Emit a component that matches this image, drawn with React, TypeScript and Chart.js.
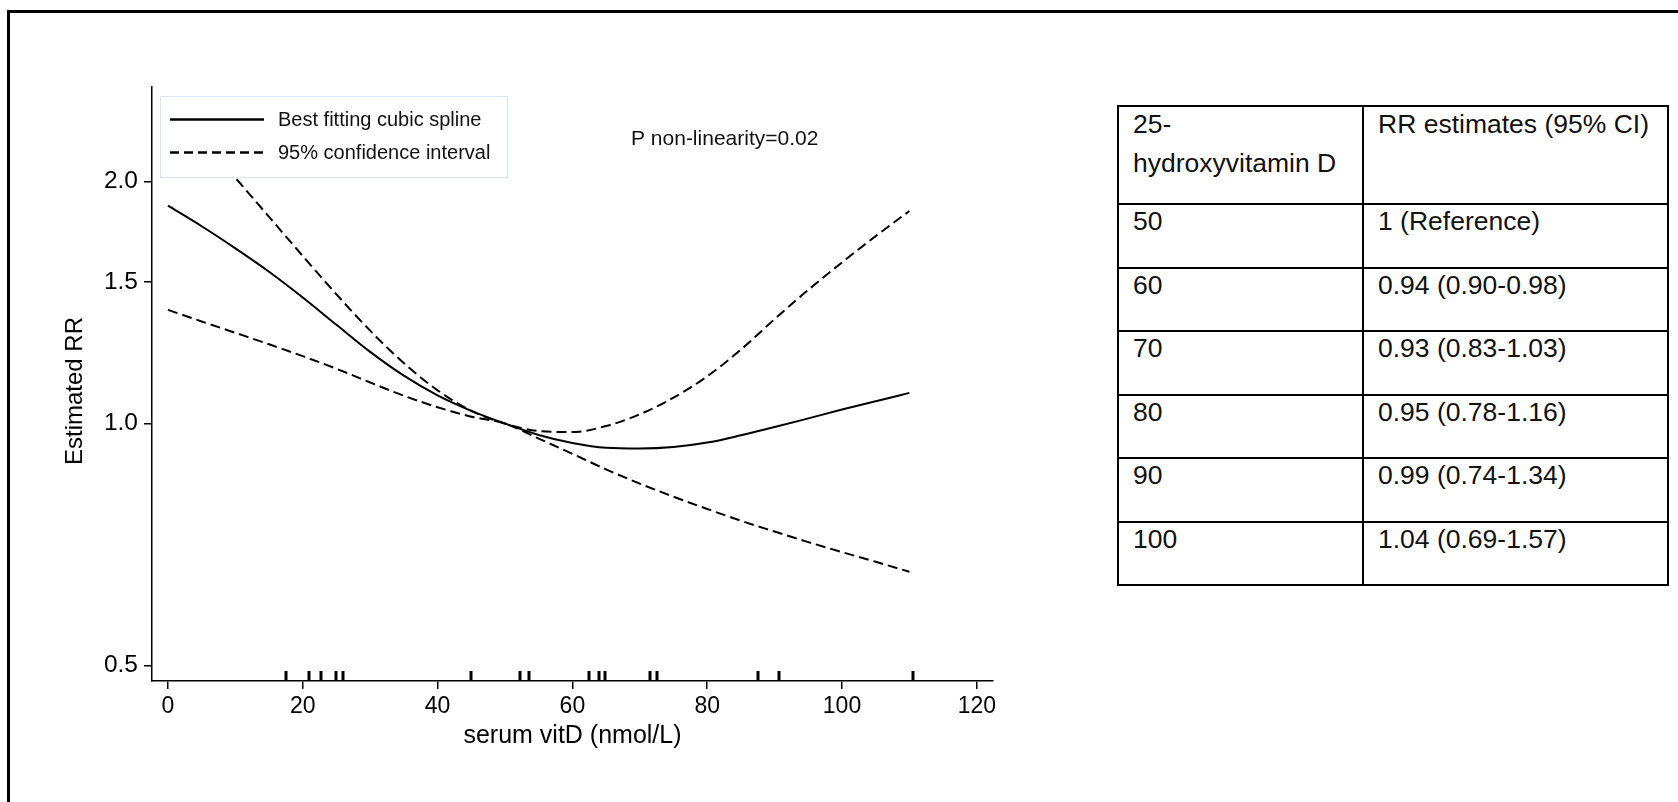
import React, { useEffect, useRef } from "react";
import { Chart, registerables } from "chart.js";

Chart.register(...registerables);

// ---------- data ----------
const vitD = [0, 5, 10, 15, 20, 25, 30, 35, 40, 45, 50, 55, 60, 65, 70, 75, 80, 85, 90, 95, 100, 105, 110];
const estimate = [1.867, 1.76, 1.652, 1.545, 1.435, 1.327, 1.228, 1.147, 1.084, 1.037, 1.0, 0.968, 0.946, 0.933, 0.931, 0.935, 0.947, 0.967, 0.99, 1.015, 1.041, 1.066, 1.092];
const lowerCI = [1.385, 1.34, 1.297, 1.255, 1.213, 1.17, 1.125, 1.083, 1.048, 1.02, 1.0, 0.958, 0.917, 0.877, 0.842, 0.811, 0.783, 0.757, 0.734, 0.712, 0.692, 0.673, 0.654];
const upperCI = [2.529, 2.261, 2.022, 1.808, 1.616, 1.448, 1.305, 1.189, 1.1, 1.037, 1.0, 0.979, 0.976, 0.993, 1.027, 1.077, 1.145, 1.236, 1.349, 1.467, 1.587, 1.711, 1.839];
const rugValues = [17.5, 20.9, 22.7, 24.9, 26.0, 44.9, 52.2, 53.5, 62.4, 64.0, 64.9, 71.5, 72.5, 87.5, 90.6, 110.6];

const xTickValues = [0, 20, 40, 60, 80, 100, 120];
const yTickValues = [0.5, 1.0, 1.5, 2.0];

const xAxisTitle = "serum vitD (nmol/L)";
const yAxisTitle = "Estimated RR";
const legendLabels = ["Best fitting cubic spline", "95% confidence interval"];
const annotationText = "P non-linearity=0.02";

const tableHeaderFirst = ["25-", "hydroxyvitamin D"];
const tableHeaderSecond = "RR estimates (95% CI)";
const tableLevels = ["50", "60", "70", "80", "90", "100"];
const tableEstimates = ["1 (Reference)", "0.94 (0.90-0.98)", "0.93 (0.83-1.03)", "0.95 (0.78-1.16)", "0.99 (0.74-1.34)", "1.04 (0.69-1.57)"];

// ---------- styling ----------
const FONT = "'Liberation Sans', Arial, Helvetica, sans-serif";
const CANVAS_W = 1040;
const CANVAS_H = 802;

const overlayPlugin = {
  id: "overlay",
  afterDatasetsDraw(chart: any) {
    const { ctx } = chart;
    const x = chart.scales.x;
    const area = chart.chartArea;
    ctx.save();
    // rug marks
    ctx.strokeStyle = "#000";
    ctx.lineWidth = 3;
    rugValues.forEach((v) => {
      const px = Math.round(x.getPixelForValue(v));
      ctx.beginPath();
      ctx.moveTo(px, area.bottom);
      ctx.lineTo(px, area.bottom - 10);
      ctx.stroke();
    });
    // legend box
    const bx = 160, by = 96, bw = 347, bh = 81;
    ctx.fillStyle = "#fff";
    ctx.fillRect(bx, by, bw, bh);
    ctx.strokeStyle = "#dbe5ee";
    ctx.lineWidth = 1;
    ctx.strokeRect(bx + 0.5, by + 0.5, bw, bh);
    ctx.strokeStyle = "#000";
    ctx.lineWidth = 2.5;
    ctx.beginPath();
    ctx.moveTo(170, 119.5);
    ctx.lineTo(264, 119.5);
    ctx.stroke();
    ctx.setLineDash([9, 5]);
    ctx.beginPath();
    ctx.moveTo(170, 152.5);
    ctx.lineTo(264, 152.5);
    ctx.stroke();
    ctx.setLineDash([]);
    ctx.fillStyle = "#111";
    ctx.font = `20px ${FONT}`;
    ctx.textBaseline = "middle";
    ctx.textAlign = "left";
    ctx.fillText(legendLabels[0], 278, 120);
    ctx.fillText(legendLabels[1], 278, 153);
    // annotation
    ctx.font = `21px ${FONT}`;
    ctx.fillText(annotationText, 631, 139);
    // y axis title
    ctx.save();
    ctx.translate(75, 391);
    ctx.rotate(-Math.PI / 2);
    ctx.textAlign = "center";
    ctx.fillStyle = "#000";
    ctx.font = `24px ${FONT}`;
    ctx.fillText(yAxisTitle, 0, 0);
    ctx.restore();
    ctx.restore();
  },
};

function App() {
  const ref = useRef<HTMLCanvasElement>(null);
  useEffect(() => {
    if (!ref.current) return;
    const toPts = (ys: number[]) => vitD.map((x, i) => ({ x, y: ys[i] }));
    const common = {
      borderColor: "#000",
      borderWidth: 2,
      pointRadius: 0,
      fill: false,
      cubicInterpolationMode: "monotone" as const,
    };
    const chart = new Chart(ref.current, {
      type: "line",
      data: {
        datasets: [
          { ...common, label: legendLabels[0], data: toPts(estimate) },
          { ...common, label: legendLabels[1], data: toPts(lowerCI), borderDash: [10, 5] },
          { ...common, label: legendLabels[1] + " (upper)", data: toPts(upperCI), borderDash: [10, 5] },
        ],
      },
      options: {
        responsive: false,
        animation: false,
        layout: { padding: { left: 0, top: 87, right: 47, bottom: 0 } },
        plugins: { legend: { display: false }, tooltip: { enabled: false } },
        scales: {
          x: {
            type: "linear",
            min: -2.37,
            max: 122.4,
            afterBuildTicks: (s: any) => {
              s.ticks = xTickValues.map((v) => ({ value: v }));
            },
            afterFit: (s: any) => {
              s.height = 121;
            },
            grid: { drawOnChartArea: false, drawTicks: true, tickLength: 8, color: "#000", lineWidth: 1.5 },
            border: { color: "#000", width: 1.5 },
            ticks: {
              color: "#000",
              font: { family: FONT, size: 23 },
              padding: 4,
              maxRotation: 0,
              autoSkip: false,
              callback: (v: any) => String(v),
            },
            title: {
              display: true,
              text: xAxisTitle,
              color: "#000",
              font: { family: FONT, size: 25 },
              padding: { top: 0, bottom: 51 },
            },
          },
          y: {
            type: "logarithmic",
            min: 0.4783,
            max: 2.623,
            afterBuildTicks: (s: any) => {
              s.ticks = yTickValues.map((v) => ({ value: v }));
            },
            afterFit: (s: any) => {
              s.width = 152;
            },
            grid: { drawOnChartArea: false, drawTicks: true, tickLength: 8, color: "#000", lineWidth: 1.5 },
            border: { color: "#000", width: 1.5 },
            ticks: {
              color: "#000",
              font: { family: FONT, size: 24.5 },
              padding: 6,
              autoSkip: false,
              callback: (v: any) => Number(v).toFixed(1),
            },
            title: { display: false, text: yAxisTitle },
          },
        },
      },
      plugins: [overlayPlugin],
    });
    return () => chart.destroy();
  }, []);

  const cell: React.CSSProperties = {
    border: "2px solid #000",
    padding: "0px 14px",
    verticalAlign: "top",
    textAlign: "left",
    fontFamily: FONT,
    fontSize: 26.5,
    lineHeight: "32px",
    color: "#111",
  };
  const headCell: React.CSSProperties = { ...cell, lineHeight: "39px" };

  return (
    <div style={{ position: "fixed", left: 0, top: 0, width: 1678, height: 802, overflow: "hidden", background: "#fff" }}>
      <div
        style={{
          position: "absolute",
          left: 7,
          top: 10,
          width: 3000,
          height: 3000,
          borderTop: "3px solid #000",
          borderLeft: "3px solid #000",
        }}
      />
      <canvas ref={ref} width={CANVAS_W} height={CANVAS_H} style={{ position: "absolute", left: 0, top: 0 }} />
      <table
        style={{
          position: "absolute",
          left: 1117,
          top: 105,
          width: 550,
          borderCollapse: "collapse",
          tableLayout: "fixed",
        }}
      >
        <colgroup>
          <col style={{ width: 245 }} />
          <col style={{ width: 305 }} />
        </colgroup>
        <tbody>
          <tr style={{ height: 98 }}>
            <td style={headCell}>
              <div style={{ marginTop: -2 }}>
                {tableHeaderFirst[0]}
                <br />
                {tableHeaderFirst[1]}
              </div>
            </td>
            <td style={headCell}>
              <div style={{ marginTop: -2 }}>{tableHeaderSecond}</div>
            </td>
          </tr>
          {tableLevels.map((lv, i) => (
            <tr key={lv} style={{ height: 63.5 }}>
              <td style={cell}>{lv}</td>
              <td style={cell}>{tableEstimates[i]}</td>
            </tr>
          ))}
        </tbody>
      </table>
    </div>
  );
}

export default App;
